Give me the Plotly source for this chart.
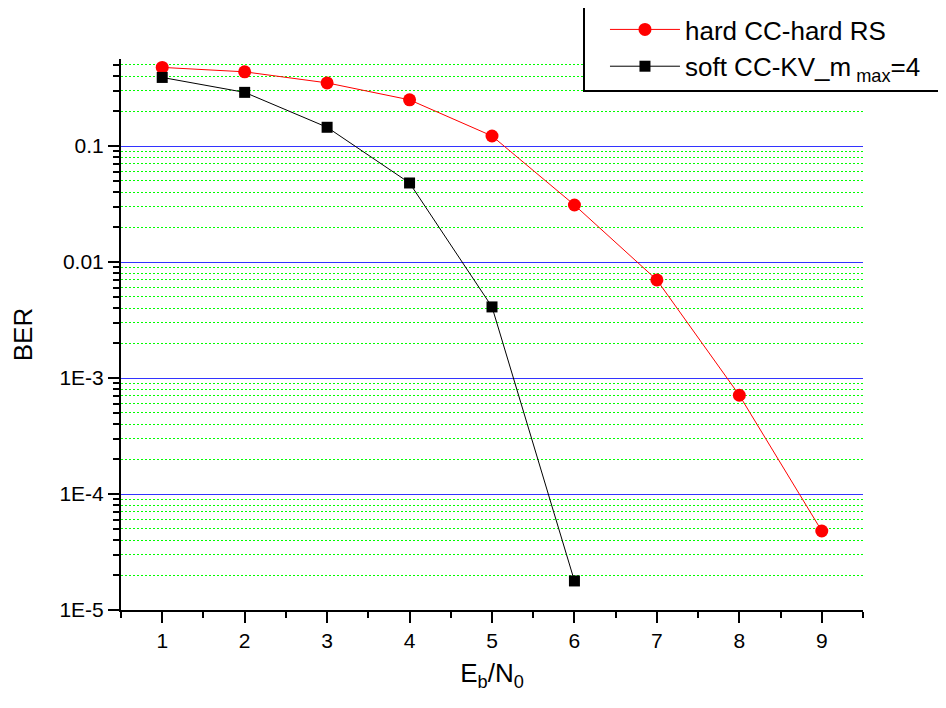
import plotly.graph_objects as go

ebn0 = [1, 2, 3, 4, 5, 6, 7, 8, 9]
ber_hard = [0.476, 0.436, 0.35, 0.25, 0.122, 0.031, 0.007, 7.1e-4, 4.8e-5]
ebn0_soft = [1, 2, 3, 4, 5, 6]
ber_soft = [0.39, 0.29, 0.145, 0.048, 0.0041, 1.78e-5]

y_tickvals = [1e-5, 1e-4, 1e-3, 1e-2, 1e-1]
y_ticktext = ["1E-5", "1E-4", "1E-3", "0.01", "0.1"]
y_minor = [m * 10.0 ** e for e in range(-5, 0) for m in range(2, 10)]
x_tickvals = [1, 2, 3, 4, 5, 6, 7, 8, 9]
x_minor = [0.5, 1.5, 2.5, 3.5, 4.5, 5.5, 6.5, 7.5, 8.5, 9.5]

fig = go.Figure()
fig.add_trace(go.Scatter(
    x=ebn0, y=ber_hard, mode="lines+markers", name="hard CC-hard RS",
    line=dict(color="#ff0000", width=1),
    marker=dict(symbol="circle", size=13, color="#ff0000"),
))
fig.add_trace(go.Scatter(
    x=ebn0_soft, y=ber_soft, mode="lines+markers",
    name="soft CC-KV_m<sub> max</sub>=4\u00a0\u00a0",
    line=dict(color="#000000", width=1),
    marker=dict(symbol="square", size=11, color="#000000"),
))

fig.update_layout(
    width=946, height=708,
    margin=dict(l=113, r=91, t=51, b=106, autoexpand=False),
    paper_bgcolor="white", plot_bgcolor="white",
    font=dict(family="Liberation Sans, Arial, sans-serif", color="black"),
    legend=dict(
        x=0.6226, y=1.0998, xanchor="left", yanchor="top",
        bordercolor="black", borderwidth=2, bgcolor="white",
        font=dict(size=26), itemwidth=70, tracegroupgap=0, indentation=20,
    ),
    showlegend=True,
)

fig.update_xaxes(
    range=[0.5, 9.5], tickmode="array", tickvals=x_tickvals,
    ticks="outside", ticklen=11, tickwidth=2, tickcolor="black",
    showline=True, linecolor="black", linewidth=2, showgrid=False, zeroline=False,
    tickfont=dict(size=21),
    minor=dict(tickmode="array", tickvals=x_minor, ticks="outside", ticklen=6,
               tickwidth=2, tickcolor="black", showgrid=False),
    title=dict(text="E<sub>b</sub>/N<sub>0</sub>", font=dict(size=26), standoff=13),
)
fig.update_yaxes(
    type="log", range=[-5, -0.25], tickmode="array", tickvals=y_tickvals,
    ticktext=y_ticktext, ticksuffix="\u00a0",
    ticks="outside", ticklen=11, tickwidth=2, tickcolor="black",
    showline=True, linecolor="black", linewidth=2, zeroline=False,
    showgrid=True, gridcolor="#3333ff", gridwidth=1,
    tickfont=dict(size=21),
    minor=dict(tickmode="array", tickvals=y_minor, ticks="outside", ticklen=6,
               tickwidth=2, tickcolor="black", showgrid=True,
               gridcolor="#00ff00", griddash="2px,2px", gridwidth=1),
    title=dict(text="BER", font=dict(size=26), standoff=22),
)

fig.write_html("out.html")
